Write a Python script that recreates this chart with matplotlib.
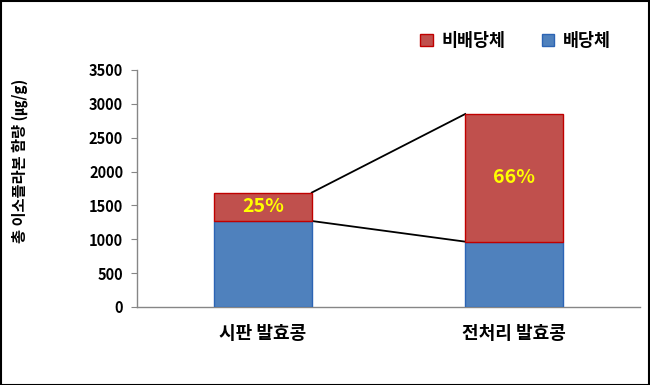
import numpy as np
import matplotlib
matplotlib.use('Agg')
import matplotlib.pyplot as plt
from matplotlib.patches import Rectangle, Patch

plt.rcParams['font.family'] = ['Noto Sans CJK KR', 'DejaVu Sans']

# data
categories = ['시판 발효콩', '전처리 발효콩']
glycoside = [1270, 965]        # 배당체
aglycone = [420, 1885]         # 비배당체
pct_labels = ['25%', '66%']
y_ticks = [0, 500, 1000, 1500, 2000, 2500, 3000, 3500]

blue = '#4F81BD'
red = '#C0504D'

fig = plt.figure(figsize=(6.5, 3.85), dpi=100)
ax = fig.add_axes([0.2108, 0.2026, 0.7738, 0.6156])

x = np.arange(len(categories))
w = 0.39
ax.bar(x, glycoside, w, color=blue, edgecolor='#2C64B4', linewidth=1.0, zorder=3)
ax.bar(x, aglycone, w, bottom=glycoside, color=red, edgecolor='#C00000',
       linewidth=1.0, zorder=3)

# connector lines between bars
tops = [g + a for g, a in zip(glycoside, aglycone)]
ax.plot([x[0] + w / 2, x[1] - w / 2], [tops[0], tops[1]], color='black', lw=1.3, zorder=2)
ax.plot([x[0] + w / 2, x[1] - w / 2], [glycoside[0], glycoside[1]], color='black', lw=1.3, zorder=2)

# percent labels
for i in range(len(categories)):
    ax.text(x[i], glycoside[i] + aglycone[i] / 2, pct_labels[i], ha='center', va='center',
            color='#FFFF00', fontsize=14, fontweight='bold', zorder=4)

ax.set_xlim(-0.5, 1.5)
ax.set_ylim(0, 3500)
ax.set_yticks(y_ticks)
ax.set_yticklabels([str(v) for v in y_ticks], fontsize=10.5, fontweight='bold')
ax.set_xticks(x)
ax.set_xticklabels(categories, fontsize=13, fontweight='bold')
ax.tick_params(axis='x', length=0, pad=12)
ax.tick_params(axis='y', length=4, color='#868686', pad=6)
for s in ['top', 'right']:
    ax.spines[s].set_visible(False)
for s in ['left', 'bottom']:
    ax.spines[s].set_color('#868686')
    ax.spines[s].set_linewidth(1.0)

fig.text(0.03, 0.582, '총 이소플라본 함량 (㎍/g)', rotation=90, ha='center', va='center',
         fontsize=11, fontweight='bold')

handles = [Patch(facecolor=red, edgecolor='#C00000'), Patch(facecolor=blue, edgecolor='#2C64B4')]
fig.legend(handles, ['비배당체', '배당체'], loc='center', bbox_to_anchor=(0.793, 0.894),
           ncol=2, frameon=False, handlelength=0.7, handleheight=0.7, handletextpad=0.5,
           columnspacing=2.1, prop={'size': 12.5, 'weight': 'bold'})

# border around figure
fig.patches.append(Rectangle((0.001, 0.001), 0.997, 0.997, transform=fig.transFigure,
                             fill=False, edgecolor='black', linewidth=1.5))

fig.savefig('out.png', dpi=100)
